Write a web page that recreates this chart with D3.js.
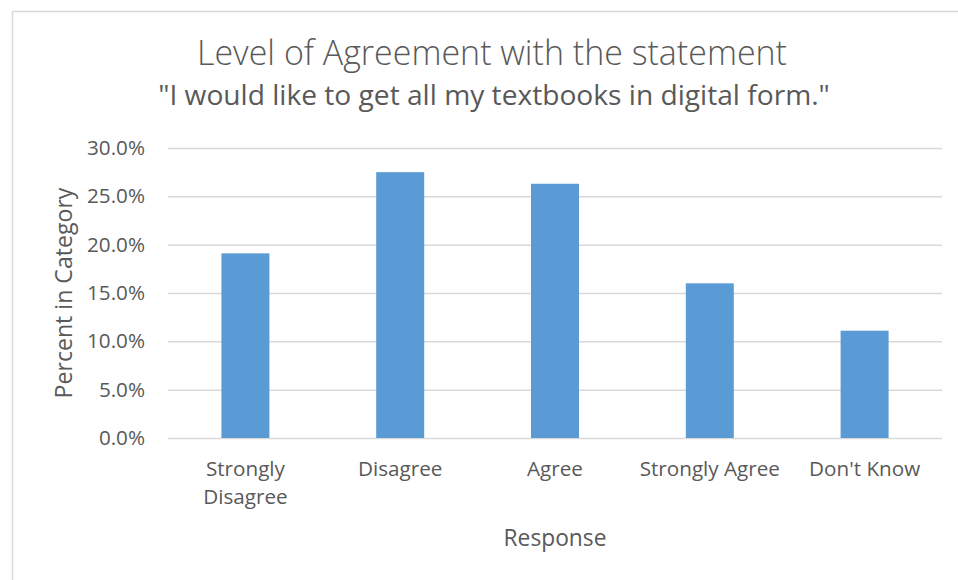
<!DOCTYPE html>
<html>
<head>
<meta charset="utf-8">
<script src="https://cdn.jsdelivr.net/npm/d3@7/dist/d3.min.js"></script>
<style>
  body { margin: 0; background: #fff; }
  svg { font-family: "Open Sans", "Noto Sans", sans-serif; }
  .axis .domain { display: none; }
  .grid line { stroke: #d9d9d9; stroke-width: 1.5; }
</style>
</head>
<body>
<svg id="chart" width="958" height="580"></svg>
<script>
    var categories = ['Strongly Disagree', 'Disagree', 'Agree', 'Strongly Agree', "Don't Know"];
    var percents = [0.191, 0.275, 0.263, 0.160, 0.111];
    var yTicks = [0, 0.05, 0.10, 0.15, 0.20, 0.25, 0.30];

    var margin = { top: 148, right: 16, bottom: 142, left: 168 };
    var width = 958 - margin.left - margin.right;
    var height = 580 - margin.top - margin.bottom;
    var textColor = '#595959';

    var root = d3.select('#chart');

    // chart frame, runs off the right and bottom edges
    root.append('rect')
      .attr('x', 12.5)
      .attr('y', 11.5)
      .attr('width', 980)
      .attr('height', 600)
      .attr('fill', 'none')
      .attr('stroke', '#d9d9d9')
      .attr('stroke-width', 1.5);

    // scale a text's font size so it spans a target width
    function fitWidth(sel, target) {
      var w = sel.node().getComputedTextLength();
      var fs = parseFloat(sel.style('font-size'));
      sel.style('font-size', (fs * target / w) + 'px');
    }

    var svg = root.append('g')
      .attr('transform', 'translate(' + margin.left + ', ' + margin.top + ')');

    var xScale = d3.scaleBand()
      .domain(categories)
      .range([0, width])
      .paddingInner(0.69)
      .paddingOuter(0.345);
    var yScale = d3.scaleLinear()
      .domain([0, 0.30])
      .range([height, 0]);

    var yAxis = d3.axisLeft(yScale)
      .tickValues(yTicks)
      .tickFormat(d3.format('.1%'))
      .tickSize(-width)
      .tickPadding(23);

    var gy = svg.append('g')
      .attr('class', 'axis grid')
      .call(yAxis)
      .attr('font-family', null)
      .attr('font-size', null);
    gy.selectAll('text')
      .attr('fill', textColor)
      .style('font-size', '16px');
    fitWidth(gy.select('.tick:last-of-type text'), 58);
    var tickFs = gy.select('.tick:last-of-type text').style('font-size');
    gy.selectAll('text').style('font-size', tickFs);

    svg.selectAll('.bar')
      .data(percents)
      .enter()
      .append('rect')
      .attr('class', 'bar')
      .attr('x', function (d, i) { return xScale(categories[i]); })
      .attr('y', function (d) { return yScale(d); })
      .attr('width', xScale.bandwidth())
      .attr('height', function (d) { return height - yScale(d); })
      .attr('fill', '#5b9bd5');

    var xAxis = d3.axisBottom(xScale)
      .tickSize(0)
      .tickPadding(0);

    var gx = svg.append('g')
      .attr('class', 'axis')
      .attr('transform', 'translate(0, ' + height + ')')
      .call(xAxis)
      .attr('font-family', null)
      .attr('font-size', null);

    gx.selectAll('text').remove();
    gx.selectAll('.tick').each(function (d) {
      var t = d3.select(this).append('text')
        .attr('fill', textColor)
        .attr('text-anchor', 'middle')
        .style('font-size', tickFs)
        .attr('y', 38)
        .text(d);
      if (t.node().getComputedTextLength() > xScale.step()) {
        var words = d.split(' ');
        t.text(null);
        words.forEach(function (w, i) {
          t.append('tspan').attr('x', 0).attr('y', 38 + i * 28).text(w);
        });
      }
    });

    // titles
    var title = root.append('text')
      .attr('x', 492)
      .attr('y', 65)
      .attr('text-anchor', 'middle')
      .attr('fill', textColor)
      .style('font-size', '28px')
      .style('font-weight', 300)
      .text('Level of Agreement with the statement');
    fitWidth(title, 590);

    var subtitle = root.append('text')
      .attr('x', 494)
      .attr('y', 105)
      .attr('text-anchor', 'middle')
      .attr('fill', textColor)
      .style('font-size', '24px')
      .text('"I would like to get all my textbooks in digital form."');
    fitWidth(subtitle, 672);

    var xLabel = root.append('text')
      .attr('x', margin.left + width / 2)
      .attr('y', 546)
      .attr('text-anchor', 'middle')
      .attr('fill', textColor)
      .style('font-size', '18px')
      .text('Response');
    fitWidth(xLabel, 103);

    var yLabel = root.append('text')
      .attr('transform', 'translate(72, ' + (margin.top + height / 2) + ') rotate(-90)')
      .attr('text-anchor', 'middle')
      .attr('fill', textColor)
      .style('font-size', '18px')
      .text('Percent in Category');
    fitWidth(yLabel, 211);
</script>
</body>
</html>
